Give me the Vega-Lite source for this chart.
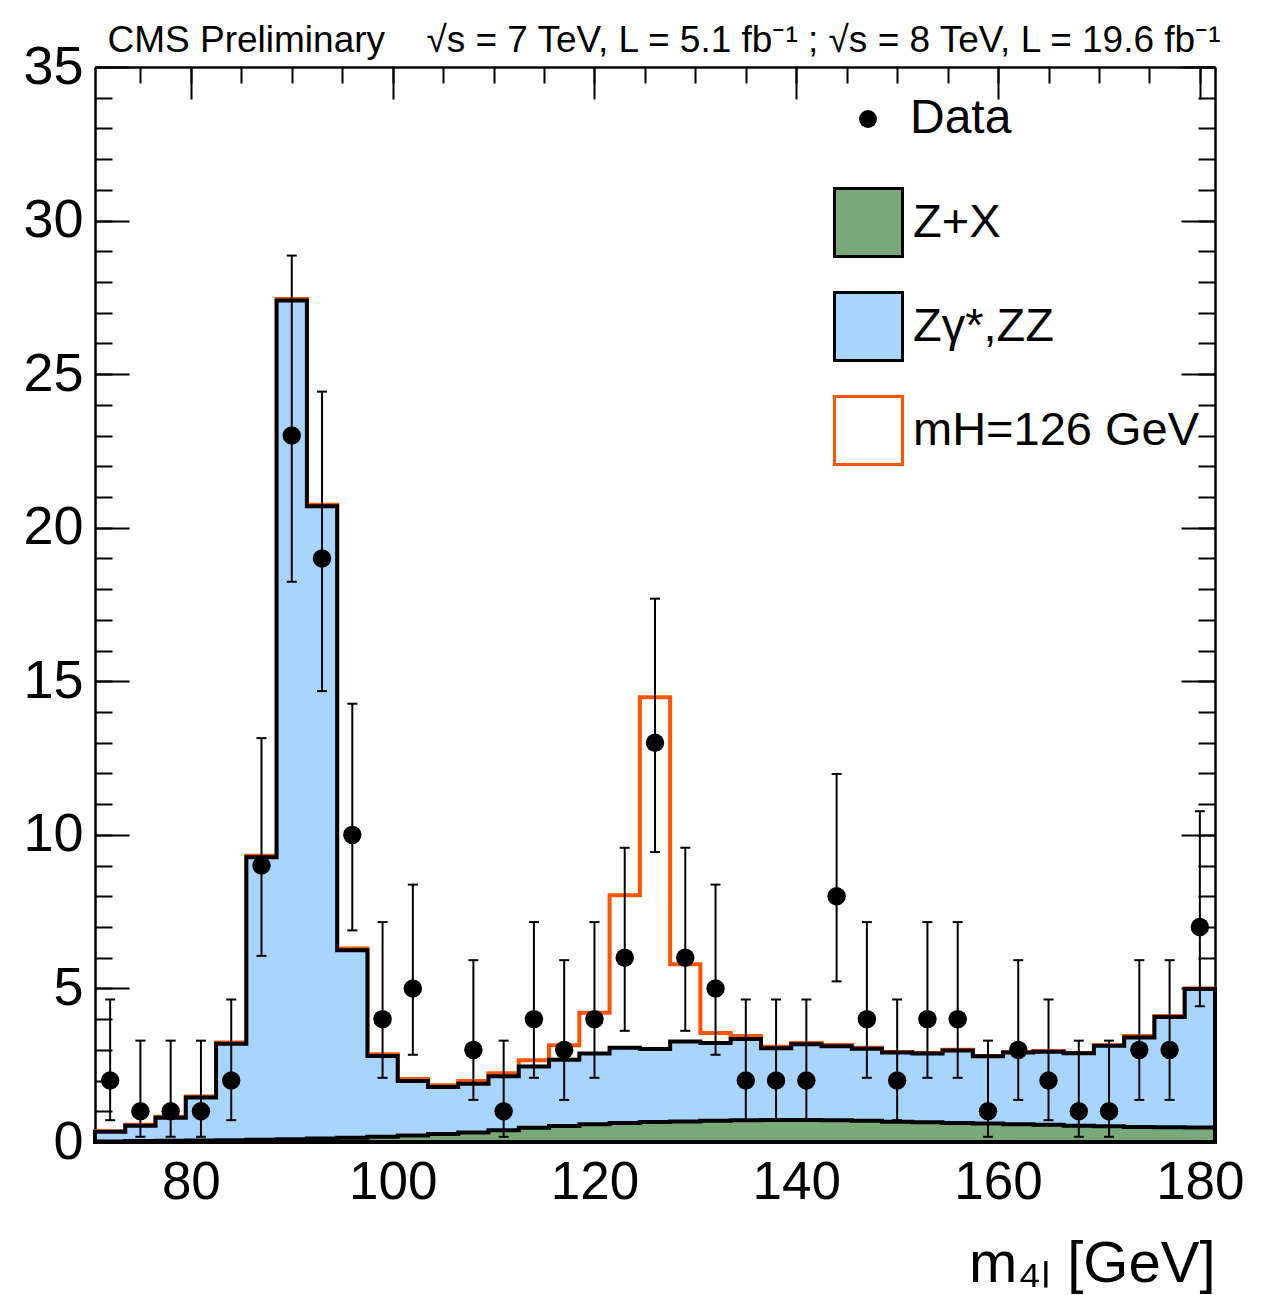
{
  "$schema": "https://vega.github.io/schema/vega-lite/v6.json",
  "width": 1120,
  "height": 1075,
  "autosize": {"type": "none"},
  "padding": {"left": 95, "top": 67, "right": 49, "bottom": 153},
  "background": "white",
  "datasets": {
    "hist": [
      {"edge": 70.5, "zx": 0.02, "bkg": 0.33, "tot": 0.35},
      {"edge": 73.5, "zx": 0.03, "bkg": 0.53, "tot": 0.56},
      {"edge": 76.5, "zx": 0.04, "bkg": 0.79, "tot": 0.82},
      {"edge": 79.5, "zx": 0.05, "bkg": 1.45, "tot": 1.48},
      {"edge": 82.5, "zx": 0.06, "bkg": 3.2, "tot": 3.24},
      {"edge": 85.5, "zx": 0.07, "bkg": 9.27, "tot": 9.32},
      {"edge": 88.5, "zx": 0.09, "bkg": 27.4, "tot": 27.45},
      {"edge": 91.5, "zx": 0.11, "bkg": 20.7, "tot": 20.75},
      {"edge": 94.5, "zx": 0.14, "bkg": 6.24, "tot": 6.3},
      {"edge": 97.5, "zx": 0.17, "bkg": 2.8, "tot": 2.86},
      {"edge": 100.5, "zx": 0.21, "bkg": 1.99, "tot": 2.05},
      {"edge": 103.5, "zx": 0.26, "bkg": 1.79, "tot": 1.85},
      {"edge": 106.5, "zx": 0.31, "bkg": 1.9, "tot": 1.99},
      {"edge": 109.5, "zx": 0.38, "bkg": 2.14, "tot": 2.24},
      {"edge": 112.5, "zx": 0.46, "bkg": 2.46, "tot": 2.66},
      {"edge": 115.5, "zx": 0.52, "bkg": 2.68, "tot": 3.15},
      {"edge": 118.5, "zx": 0.58, "bkg": 2.88, "tot": 4.21},
      {"edge": 121.5, "zx": 0.62, "bkg": 3.07, "tot": 8.03},
      {"edge": 124.5, "zx": 0.65, "bkg": 3.03, "tot": 14.48},
      {"edge": 127.5, "zx": 0.67, "bkg": 3.27, "tot": 5.79},
      {"edge": 130.5, "zx": 0.69, "bkg": 3.22, "tot": 3.55},
      {"edge": 133.5, "zx": 0.71, "bkg": 3.35, "tot": 3.45},
      {"edge": 136.5, "zx": 0.72, "bkg": 3.05, "tot": 3.1},
      {"edge": 139.5, "zx": 0.72, "bkg": 3.18, "tot": 3.22},
      {"edge": 142.5, "zx": 0.71, "bkg": 3.12, "tot": 3.16},
      {"edge": 145.5, "zx": 0.69, "bkg": 3.04, "tot": 3.07},
      {"edge": 148.5, "zx": 0.66, "bkg": 2.91, "tot": 2.93},
      {"edge": 151.5, "zx": 0.64, "bkg": 2.88, "tot": 2.9},
      {"edge": 154.5, "zx": 0.62, "bkg": 2.98, "tot": 3.0},
      {"edge": 157.5, "zx": 0.6, "bkg": 2.79, "tot": 2.8},
      {"edge": 160.5, "zx": 0.58, "bkg": 2.91, "tot": 2.93},
      {"edge": 163.5, "zx": 0.56, "bkg": 2.94, "tot": 2.96},
      {"edge": 166.5, "zx": 0.53, "bkg": 2.89, "tot": 2.9},
      {"edge": 169.5, "zx": 0.51, "bkg": 3.13, "tot": 3.15},
      {"edge": 172.5, "zx": 0.49, "bkg": 3.4, "tot": 3.45},
      {"edge": 175.5, "zx": 0.48, "bkg": 4.07, "tot": 4.1},
      {"edge": 178.5, "zx": 0.47, "bkg": 4.98, "tot": 5.0},
      {"edge": 181.5, "zx": 0.47, "bkg": 4.98, "tot": 5.0}
    ],
    "obs": [
      {"m": 72, "n": 2, "lo": 0.71, "hi": 4.64},
      {"m": 75, "n": 1, "lo": 0.17, "hi": 3.3},
      {"m": 78, "n": 1, "lo": 0.17, "hi": 3.3},
      {"m": 81, "n": 1, "lo": 0.17, "hi": 3.3},
      {"m": 84, "n": 2, "lo": 0.71, "hi": 4.64},
      {"m": 87, "n": 9, "lo": 6.06, "hi": 13.15},
      {"m": 90, "n": 23, "lo": 18.24, "hi": 28.86},
      {"m": 93, "n": 19, "lo": 14.68, "hi": 24.43},
      {"m": 96, "n": 10, "lo": 6.89, "hi": 14.27},
      {"m": 99, "n": 4, "lo": 2.09, "hi": 7.16},
      {"m": 102, "n": 5, "lo": 2.84, "hi": 8.38},
      {"m": 108, "n": 3, "lo": 1.37, "hi": 5.92},
      {"m": 111, "n": 1, "lo": 0.17, "hi": 3.3},
      {"m": 114, "n": 4, "lo": 2.09, "hi": 7.16},
      {"m": 117, "n": 3, "lo": 1.37, "hi": 5.92},
      {"m": 120, "n": 4, "lo": 2.09, "hi": 7.16},
      {"m": 123, "n": 6, "lo": 3.62, "hi": 9.58},
      {"m": 126, "n": 13, "lo": 9.44, "hi": 17.69},
      {"m": 129, "n": 6, "lo": 3.62, "hi": 9.58},
      {"m": 132, "n": 5, "lo": 2.84, "hi": 8.38},
      {"m": 135, "n": 2, "lo": 0.71, "hi": 4.64},
      {"m": 138, "n": 2, "lo": 0.71, "hi": 4.64},
      {"m": 141, "n": 2, "lo": 0.71, "hi": 4.64},
      {"m": 144, "n": 8, "lo": 5.23, "hi": 11.98},
      {"m": 147, "n": 4, "lo": 2.09, "hi": 7.16},
      {"m": 150, "n": 2, "lo": 0.71, "hi": 4.64},
      {"m": 153, "n": 4, "lo": 2.09, "hi": 7.16},
      {"m": 156, "n": 4, "lo": 2.09, "hi": 7.16},
      {"m": 159, "n": 1, "lo": 0.17, "hi": 3.3},
      {"m": 162, "n": 3, "lo": 1.37, "hi": 5.92},
      {"m": 165, "n": 2, "lo": 0.71, "hi": 4.64},
      {"m": 168, "n": 1, "lo": 0.17, "hi": 3.3},
      {"m": 171, "n": 1, "lo": 0.17, "hi": 3.3},
      {"m": 174, "n": 3, "lo": 1.37, "hi": 5.92},
      {"m": 177, "n": 3, "lo": 1.37, "hi": 5.92},
      {"m": 180, "n": 7, "lo": 4.42, "hi": 10.77}
    ]
  },
  "resolve": {"axis": {"x": "independent", "y": "independent"}},
  "layer": [
    {
      "data": {"name": "hist"},
      "mark": {"type": "area", "interpolate": "step-after", "strokeWidth": 4, "opacity": 1, "strokeJoin": "miter"},
      "encoding": {
        "x": {"field": "edge", "type": "quantitative",
          "scale": {"domain": [70.5, 181.5], "nice": false, "zero": false},
          "axis": {"orient": "bottom", "values": [80, 100, 120, 140, 160, 180], "tickSize": -32, "labelFontSize": 53, "labelPadding": 46, "labelFlush": false, "labelOverlap": false, "labelBaseline": "top", "title": "m₄ₗ [GeV]", "titleFontSize": 58, "titleX": 1120, "titleY": 139, "titleAlign": "right", "titleBaseline": "alphabetic"}},
        "y": {"field": "tot", "type": "quantitative", "stack": null,
          "scale": {"domain": [0, 35], "nice": false, "zero": true},
          "axis": {"orient": "left", "values": [0, 5, 10, 15, 20, 25, 30, 35], "tickSize": -34, "labelFontSize": 54, "labelPadding": 46, "labelBaseline": "middle", "labelFlush": false, "labelOverlap": false, "title": null}},
        "fill": {"datum": "mH=126 GeV",
          "scale": {"domain": ["Z+X", "Zγ*,ZZ", "mH=126 GeV"], "range": ["#79a879", "#a8d5fe", "#ffffff"]},
          "legend": {"orient": "none", "legendX": 738, "legendY": 120, "title": null, "symbolType": "square", "symbolSize": 4624, "symbolStrokeWidth": 3, "labelFontSize": 47, "labelOffset": 9, "rowPadding": 23, "labelLimit": 600, "padding": 0}},
        "stroke": {"datum": "mH=126 GeV",
          "scale": {"domain": ["Z+X", "Zγ*,ZZ", "mH=126 GeV"], "range": ["#000000", "#000000", "#ff5500"]},
          "legend": {"orient": "none", "legendX": 738, "legendY": 120, "title": null, "symbolType": "square", "symbolSize": 4624, "symbolStrokeWidth": 3, "labelFontSize": 47, "labelOffset": 9, "rowPadding": 23, "labelLimit": 600, "padding": 0}}
      }
    },
    {
      "data": {"name": "hist"},
      "mark": {"type": "area", "interpolate": "step-after", "strokeWidth": 4, "opacity": 1, "strokeJoin": "miter"},
      "encoding": {
        "x": {"field": "edge", "type": "quantitative",
          "axis": {"orient": "bottom", "values": [75, 80, 85, 90, 95, 100, 105, 110, 115, 120, 125, 130, 135, 140, 145, 150, 155, 160, 165, 170, 175, 180], "tickSize": -16, "labels": false, "domain": false, "title": null}},
        "y": {"field": "bkg", "type": "quantitative", "stack": null,
          "axis": {"orient": "left", "values": [0, 1, 2, 3, 4, 5, 6, 7, 8, 9, 10, 11, 12, 13, 14, 15, 16, 17, 18, 19, 20, 21, 22, 23, 24, 25, 26, 27, 28, 29, 30, 31, 32, 33, 34, 35], "tickSize": -17, "labels": false, "domain": false, "title": null}},
        "fill": {"datum": "Zγ*,ZZ"},
        "stroke": {"datum": "Zγ*,ZZ"}
      }
    },
    {
      "data": {"name": "hist"},
      "mark": {"type": "area", "interpolate": "step-after", "strokeWidth": 4, "opacity": 1, "strokeJoin": "miter"},
      "encoding": {
        "x": {"field": "edge", "type": "quantitative",
          "axis": {"orient": "top", "values": [80, 100, 120, 140, 160, 180], "tickSize": -32, "labels": false, "title": "√s = 7 TeV, L = 5.1 fb⁻¹ ; √s = 8 TeV, L = 19.6 fb⁻¹", "titleFontSize": 37, "titleX": 1125, "titleY": -16, "titleAlign": "right", "titleBaseline": "alphabetic"}},
        "y": {"field": "zx", "type": "quantitative", "stack": null,
          "axis": {"orient": "right", "values": [0, 5, 10, 15, 20, 25, 30, 35], "tickSize": -34, "labels": false, "title": null}},
        "fill": {"datum": "Z+X"},
        "stroke": {"datum": "Z+X"}
      }
    },
    {
      "data": {"name": "obs"},
      "mark": {"type": "rule", "color": "black", "strokeWidth": 2},
      "encoding": {
        "x": {"field": "m", "type": "quantitative",
          "axis": {"orient": "top", "values": [75, 80, 85, 90, 95, 100, 105, 110, 115, 120, 125, 130, 135, 140, 145, 150, 155, 160, 165, 170, 175, 180], "tickSize": -16, "labels": false, "domain": false, "title": "CMS Preliminary", "titleFontSize": 37, "titleX": 12, "titleY": -16, "titleAlign": "left", "titleBaseline": "alphabetic"}},
        "y": {"field": "lo", "type": "quantitative",
          "axis": {"orient": "right", "values": [0, 1, 2, 3, 4, 5, 6, 7, 8, 9, 10, 11, 12, 13, 14, 15, 16, 17, 18, 19, 20, 21, 22, 23, 24, 25, 26, 27, 28, 29, 30, 31, 32, 33, 34, 35], "tickSize": -17, "labels": false, "domain": false, "title": null}},
        "y2": {"field": "hi"}
      }
    },
    {
      "data": {"name": "obs"},
      "mark": {"type": "tick", "orient": "horizontal", "size": 10, "thickness": 2, "color": "black", "opacity": 1},
      "encoding": {
        "x": {"field": "m", "type": "quantitative", "axis": null},
        "y": {"field": "lo", "type": "quantitative", "axis": null}
      }
    },
    {
      "data": {"name": "obs"},
      "mark": {"type": "tick", "orient": "horizontal", "size": 10, "thickness": 2, "color": "black", "opacity": 1},
      "encoding": {
        "x": {"field": "m", "type": "quantitative", "axis": null},
        "y": {"field": "hi", "type": "quantitative", "axis": null}
      }
    },
    {
      "data": {"name": "obs"},
      "mark": {"type": "point", "filled": true, "size": 340, "color": "black", "opacity": 1},
      "encoding": {
        "x": {"field": "m", "type": "quantitative", "axis": null},
        "y": {"field": "n", "type": "quantitative", "axis": null},
        "shape": {"datum": "Data", "scale": {"range": ["circle"]},
          "legend": {"orient": "none", "legendX": 749, "legendY": 28, "title": null, "symbolType": "circle", "symbolSize": 320, "symbolFillColor": "black", "symbolStrokeColor": "black", "symbolOpacity": 1, "labelFontSize": 48, "labelOffset": 18, "labelLimit": 600, "padding": 0}}
      }
    }
  ],
  "config": {
    "view": {"stroke": null},
    "font": "Liberation Sans",
    "axis": {"labelFont": "Liberation Sans", "titleFont": "Liberation Sans", "labelColor": "black", "titleColor": "black", "tickColor": "black", "domainColor": "black", "grid": false, "zindex": 1, "tickWidth": 2, "domainWidth": 2.5, "titleFontWeight": "normal", "labelFontWeight": "normal"},
    "legend": {"labelFont": "Liberation Sans", "labelColor": "black"}
  }
}
